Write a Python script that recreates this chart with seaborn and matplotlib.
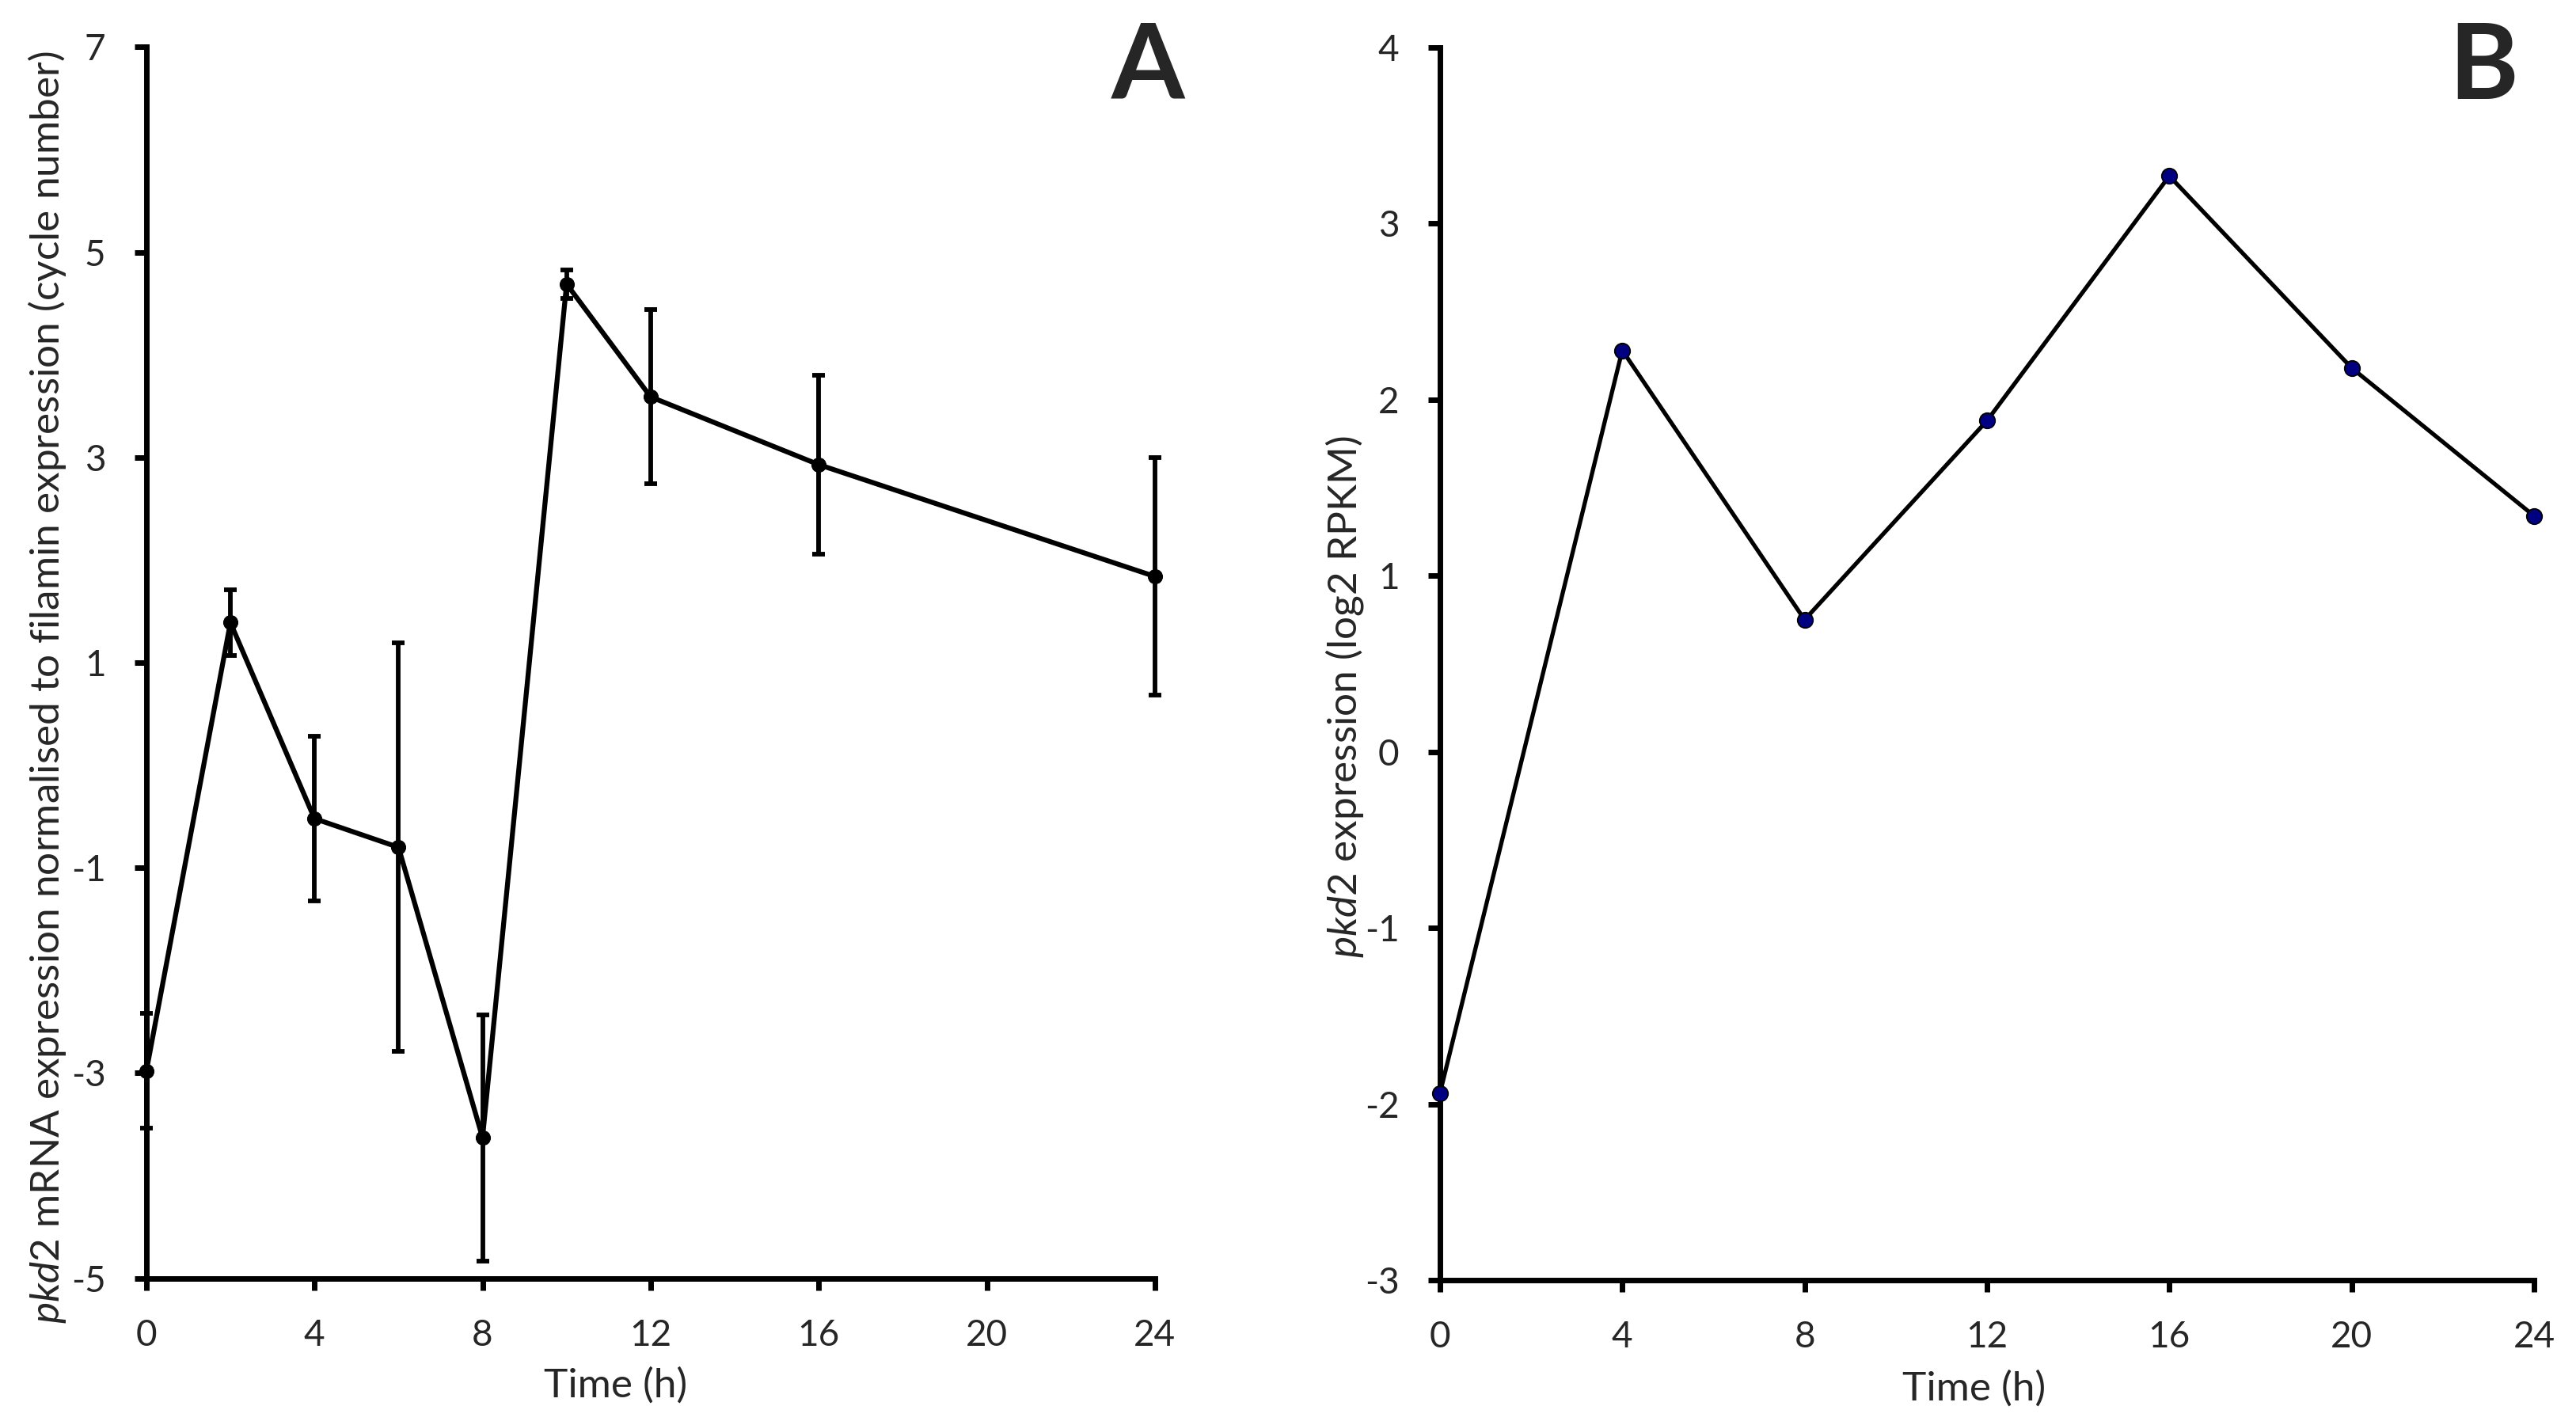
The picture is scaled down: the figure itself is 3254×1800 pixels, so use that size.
import numpy as np
import pandas as pd
import seaborn as sns
import matplotlib.pyplot as plt

# panel A: qPCR time course
time_a = [0, 2, 4, 6, 8, 10, 12, 16, 24]
expr_a = [-2.98, 1.39, -0.52, -0.80, -3.63, 4.69, 3.59, 2.93, 1.84]
err_a = [0.56, 0.32, 0.80, 1.99, 1.20, 0.14, 0.85, 0.87, 1.16]

# panel B: RNA-seq time course
time_b = [0, 4, 8, 12, 16, 20, 24]
expr_b = [-1.94, 2.28, 0.75, 1.88, 3.27, 2.18, 1.34]

xticks = [0, 4, 8, 12, 16, 20, 24]
yticks_a = [-5, -3, -1, 1, 3, 5, 7]
yticks_b = [-3, -2, -1, 0, 1, 2, 3, 4]


def style_axis(ax, yticks):
    sns.despine(ax=ax)
    for s in ["left", "bottom"]:
        ax.spines[s].set_linewidth(5)
        ax.spines[s].set_color("black")
    ax.set_xlim(0, 24)
    ax.set_ylim(yticks[0], yticks[-1])
    ax.set_xticks(xticks)
    ax.set_yticks(yticks)
    ax.tick_params(axis="both", direction="out", length=11, width=5,
                   pad=26, labelsize=33, color="black")


if __name__ == '__main__':
    sns.set_style("ticks")
    plt.rcParams['font.family'] = ['Lato', 'DejaVu Sans']
    plt.rcParams['axes.unicode_minus'] = False
    plt.rcParams['mathtext.fontset'] = 'custom'
    plt.rcParams['mathtext.rm'] = 'Lato'
    plt.rcParams['mathtext.it'] = 'Lato:italic'

    df_a = pd.DataFrame({"time": time_a, "expr": expr_a, "err": err_a})
    df_b = pd.DataFrame({"time": time_b, "expr": expr_b})

    fig = plt.figure(figsize=(32.55, 18), dpi=100)
    ax_a = fig.add_axes([0.0568, 0.103, 0.3914, 0.864])
    ax_b = fig.add_axes([0.5588, 0.1017, 0.4246, 0.865])

    # A
    eb = ax_a.errorbar(df_a["time"], df_a["expr"], yerr=df_a["err"], fmt="none",
                       ecolor="black", elinewidth=4.2, capsize=6, capthick=4.2)
    for art in eb.lines[1] + eb.lines[2]:
        art.set_clip_on(False)
    sns.lineplot(data=df_a, x="time", y="expr", ax=ax_a, color="black",
                 linewidth=4.5, marker="o", markersize=13,
                 markeredgecolor="black", clip_on=False, zorder=3)
    style_axis(ax_a, yticks_a)
    ax_a.set_xlabel("Time (h)", fontsize=37)
    ax_a.set_ylabel(r"$\it{pkd2}$ mRNA expression normalised to filamin expression (cycle number)",
                    fontsize=37)
    ax_a.xaxis.set_label_coords(0.465, -0.072)
    ax_a.yaxis.set_label_coords(-0.078, 0.48)

    # B
    sns.lineplot(data=df_b, x="time", y="expr", ax=ax_b, color="black",
                 linewidth=3.8, marker="o", markersize=14,
                 markerfacecolor="#000080", markeredgecolor="black",
                 markeredgewidth=1.3, clip_on=False, zorder=3)
    style_axis(ax_b, yticks_b)
    ax_b.set_xlabel("Time (h)", fontsize=37)
    ax_b.set_ylabel(r"$\it{pkd2}$ expression (log2 RPKM)", fontsize=37)
    ax_b.xaxis.set_label_coords(0.488, -0.073)
    ax_b.yaxis.set_label_coords(-0.068, 0.473)

    fig.text(1450 / 3255, 1 - 125 / 1800, "A", fontsize=96, fontweight="bold",
             ha="center", va="baseline")
    fig.text(3137 / 3255, 1 - 125 / 1800, "B", fontsize=96, fontweight="bold",
             ha="center", va="baseline")

    plt.savefig("out.png", dpi=100, facecolor="white")
